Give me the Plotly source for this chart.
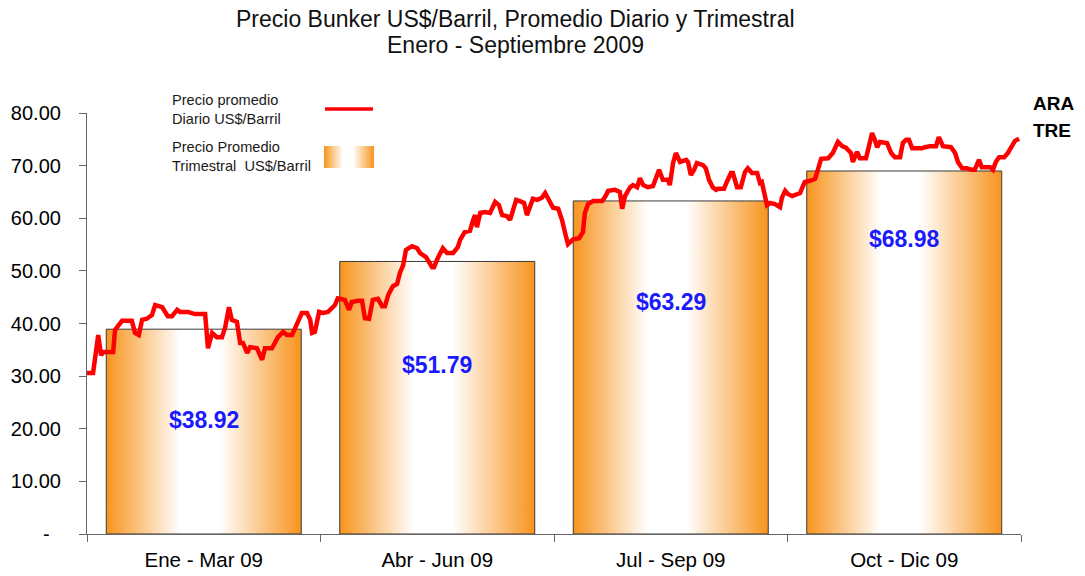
import plotly.graph_objects as go

# ---------------- data ----------------
trimestres = ["Ene - Mar 09", "Abr - Jun 09", "Jul - Sep 09", "Oct - Dic 09"]
promedio_trimestral = [38.92, 51.79, 63.29, 68.98]
etiquetas = ["$38.92", "$51.79", "$63.29", "$68.98"]

# daily price (trading-day position, US$/barril)
dias = [0, 1.3, 2.4, 3.0, 3.6, 5.6, 6.0, 7.5, 9.6, 10.3, 11.1, 11.8, 12.8, 13.9, 14.6, 16.1, 17.3, 18.2, 19.3, 19.9,
        21.6, 22.5, 23.1, 25.3, 25.9, 26.8, 27.8, 28.9, 29.6, 30.4, 31.0, 32.1, 32.8, 33.4, 34.3, 34.9, 36.4, 37.5, 38.1, 39.6,
        40.9, 42.0, 42.8, 43.9, 45.0, 46.0, 47.1, 47.8, 48.2, 48.8, 49.7, 50.5, 51.6, 52.5, 53.1, 53.7, 55.2, 56.1, 56.7, 58.0,
        58.9, 59.5, 60.4, 61.2, 62.3, 63.2, 63.8, 64.5, 65.5, 66.4, 67.0, 67.7, 68.3, 69.6, 70.7, 71.3, 72.6, 73.9, 74.3, 75.2,
        76.2, 77.1, 78.4, 79.4, 79.9, 80.9, 82.0, 82.7, 83.1, 83.5, 84.2, 85.2, 86.3, 87.4, 88.2, 88.9, 89.9, 90.6, 91.2, 91.9,
        93.1, 93.6, 94.2, 94.9, 95.5, 96.4, 97.4, 98.1, 98.7, 99.8, 100.9, 101.7, 102.6, 103.0, 104.1, 105.4, 106.2, 106.6, 107.3, 108.4,
        109.4, 110.3, 110.9, 111.6, 113.1, 114.1, 114.6, 115.2, 116.3, 116.9, 117.8, 118.4, 119.1, 120.1, 121.2, 122.5, 123.3, 124.4, 124.8, 125.5,
        126.1, 127.0, 128.3, 128.7, 129.3, 130.0, 130.6, 131.9, 132.5, 133.2, 134.0, 134.7, 135.1, 136.4, 137.0, 137.9, 138.3, 139.2, 140.0, 140.9,
        141.5, 142.4, 143.5, 144.1, 144.5, 145.2, 145.6, 146.3, 147.3, 148.4, 148.8, 149.5, 150.1, 151.0, 151.8, 152.7, 153.1, 153.7, 154.8, 155.9,
        156.5, 157.2, 158.7, 159.7, 160.8, 161.7, 162.5, 163.6, 164.0, 164.9, 165.5, 166.8, 167.5, 168.1, 168.7, 169.2, 169.8, 170.7, 171.3, 172.2,
        173.0, 174.1, 174.7, 175.4, 176.0, 176.7, 177.7, 178.8, 179.4, 180.5, 181.8, 182.4, 183.3, 184.2, 185.0, 185.9, 186.5, 187.4, 188.4, 189.5,
        190.1, 191.0, 191.6, 192.5, 193.4, 194.0, 194.6, 195.3, 196.4, 197.2, 198.1, 198.7, 199.6]
precio = [30.6, 30.6, 37.8, 34.0, 34.6, 34.6, 38.8, 40.5, 40.5, 38.2, 37.8, 40.7, 40.9, 41.6, 43.5, 43.1, 41.4, 41.4, 42.6, 42.2,
          42.2, 42.0, 41.8, 41.8, 35.3, 38.2, 37.4, 37.4, 39.3, 43.1, 40.7, 40.3, 36.3, 36.3, 34.4, 35.5, 35.3, 33.1, 35.3, 35.3,
          37.4, 38.4, 37.8, 37.8, 40.1, 42.0, 42.0, 40.7, 38.2, 38.4, 42.2, 42.0, 42.2, 42.9, 43.5, 44.8, 44.5, 42.6, 44.1, 44.3,
          44.3, 41.0, 40.9, 44.5, 44.7, 43.3, 43.3, 45.4, 47.1, 47.5, 49.6, 51.1, 54.0, 54.7, 54.3, 53.4, 52.6, 50.7, 50.7, 52.6,
          54.3, 53.4, 53.4, 54.5, 55.9, 57.4, 57.6, 59.7, 60.6, 58.3, 61.0, 61.2, 61.0, 63.1, 62.5, 60.6, 60.4, 59.7, 61.6, 63.5,
          63.1, 62.9, 60.6, 62.5, 63.7, 63.5, 63.9, 64.8, 63.9, 62.0, 61.8, 59.7, 56.4, 55.1, 56.0, 56.2, 57.4, 61.0, 62.7, 63.3,
          63.3, 63.3, 64.0, 65.2, 65.4, 65.0, 61.8, 64.2, 65.9, 66.3, 65.9, 67.6, 66.3, 65.9, 66.1, 69.2, 67.3, 67.3, 66.3, 70.5,
          72.4, 70.7, 71.1, 70.7, 68.2, 69.2, 70.5, 70.1, 69.5, 67.3, 65.9, 65.4, 65.6, 65.6, 66.9, 68.6, 68.6, 65.9, 65.9, 68.8,
          69.5, 68.6, 68.6, 66.7, 66.9, 64.0, 62.5, 62.9, 62.7, 62.1, 63.9, 65.2, 64.6, 64.2, 64.4, 64.8, 65.7, 66.9, 67.1, 67.5,
          69.2, 71.3, 71.4, 72.4, 74.5, 73.7, 73.4, 72.4, 70.7, 72.6, 71.4, 71.4, 73.9, 76.2, 74.9, 73.5, 74.5, 74.5, 74.3, 72.4,
          71.6, 71.6, 74.3, 74.9, 74.9, 73.3, 73.2, 73.3, 73.5, 73.7, 73.7, 75.4, 73.7, 73.5, 73.5, 72.4, 70.7, 69.5, 69.5, 69.2,
          69.2, 71.1, 69.7, 69.7, 69.7, 69.2, 70.7, 71.6, 71.6, 72.4, 73.7, 74.7, 75.1]
assert len(dias) == len(precio), (len(dias), len(precio))

y_ticks = [0, 10, 20, 30, 40, 50, 60, 70, 80]
y_ticktext = ["-\u00a0\u00a0"] + [f"{v:.2f}" for v in y_ticks[1:]]

# ---------------- style ----------------
ORANGE = "#F7941D"
grad = [[0, ORANGE], [0.38, "#FFFFFF"], [0.58, "#FFFFFF"], [1, ORANGE]]
BAR_W = 0.835
FONT = "Liberation Sans, Arial, sans-serif"
label_y = [21.7, 32.1, 44.1, 56.1]

W, H = 1085, 576
ML, MR, MT, MB = 87, 64, 113, 42
PW, PH = W - ML - MR, H - MT - MB


def px(x):
    return (x - ML) / PW


def py(y):
    return (H - MB - y) / PH


fig = go.Figure()

for i, v in enumerate(promedio_trimestral):
    x0, x1 = i - BAR_W / 2, i + BAR_W / 2
    fig.add_trace(go.Scatter(
        x=[x0, x1, x1, x0, x0], y=[0, 0, v, v, 0],
        mode="lines", fill="toself",
        fillgradient=dict(type="horizontal", colorscale=grad),
        line=dict(color="#3a3a3a", width=1),
        hoverinfo="skip", showlegend=False,
    ))

fig.add_trace(go.Scatter(
    x=dias, y=precio, xaxis="x2", yaxis="y", mode="lines",
    line=dict(color="#FF0000", width=4.5), showlegend=False,
))

# legend swatch (gradient box)
fig.add_trace(go.Scatter(
    x=[0, 1, 1, 0, 0], y=[0, 0, 1, 1, 0], xaxis="x3", yaxis="y3",
    mode="lines", fill="toself", line=dict(width=0, color="rgba(0,0,0,0)"),
    fillgradient=dict(type="horizontal", colorscale=grad),
    hoverinfo="skip", showlegend=False,
))

annotations = []
for i, (t, ly) in enumerate(zip(etiquetas, label_y)):
    annotations.append(dict(x=i, y=ly, xref="x", yref="y", text=f"<b>{t}</b>", showarrow=False,
                            font=dict(family=FONT, size=23, color="#1a1aff")))

annotations += [
    dict(x=px(515), y=py(19), xref="paper", yref="paper", showarrow=False,
         text="Precio Bunker US$/Barril, Promedio Diario y Trimestral",
         font=dict(family=FONT, size=23, color="#111"), xanchor="center", yanchor="middle"),
    dict(x=px(515), y=py(45), xref="paper", yref="paper", showarrow=False,
         text="Enero - Septiembre 2009",
         font=dict(family=FONT, size=23, color="#111"), xanchor="center", yanchor="middle"),
    dict(x=px(170), y=py(109.5), xref="paper", yref="paper", showarrow=False, align="left",
         text="Precio promedio<br>Diario US$/Barril",
         font=dict(family=FONT, size=14.6, color="#1a1a1a"), xanchor="left", yanchor="middle"),
    dict(x=px(170), y=py(156), xref="paper", yref="paper", showarrow=False, align="left",
         text="Precio Promedio<br>Trimestral  US$/Barril",
         font=dict(family=FONT, size=14.6, color="#1a1a1a"), xanchor="left", yanchor="middle"),
    dict(x=px(1031), y=py(104), xref="paper", yref="paper", showarrow=False,
         text="<b>ARA</b>", font=dict(family=FONT, size=19, color="#000"), xanchor="left", yanchor="middle"),
    dict(x=px(1031), y=py(130), xref="paper", yref="paper", showarrow=False,
         text="<b>TRE</b>", font=dict(family=FONT, size=19, color="#000"), xanchor="left", yanchor="middle"),
]

shapes = [dict(type="line", xref="paper", yref="paper", x0=px(325), x1=px(373), y0=py(109), y1=py(109),
               line=dict(color="#FF0000", width=3.5))]

fig.update_layout(
    width=W, height=H, autosize=False,
    margin=dict(l=ML, r=MR, t=MT, b=MB, pad=0, autoexpand=False),
    paper_bgcolor="white", plot_bgcolor="white",
    showlegend=False,
    font=dict(family=FONT, color="#000"),
    xaxis=dict(range=[-0.5, 3.5], tickmode="array", tickvals=[0, 1, 2, 3], ticktext=trimestres,
               ticks="", showgrid=False, zeroline=False, showline=True, linecolor="#666", linewidth=1.2,
               tickfont=dict(family=FONT, size=20.5, color="#000"), ticklabelstandoff=7, automargin=False,
               minor=dict(tickmode="array", tickvals=[-0.5, 0.5, 1.5, 2.5, 3.5], ticks="outside",
                          ticklen=7, tickcolor="#666", tickwidth=1.2, showgrid=False),
               fixedrange=True),
    xaxis2=dict(range=[0, 200], overlaying="x", visible=False, fixedrange=True),
    yaxis=dict(range=[0, 80], tickmode="array", tickvals=y_ticks, ticktext=y_ticktext,
               ticks="outside", ticklen=7, tickcolor="#666", tickwidth=1.2,
               showgrid=False, zeroline=False, showline=True, linecolor="#666", linewidth=1.2,
               tickfont=dict(family=FONT, size=20, color="#000"), ticklabelstandoff=14, automargin=False,
               fixedrange=True),
    xaxis3=dict(domain=[px(324), px(374)], range=[0, 1], anchor="y3", visible=False, fixedrange=True),
    yaxis3=dict(domain=[py(168), py(146)], range=[0, 1], anchor="x3", visible=False, fixedrange=True),
    annotations=annotations,
    shapes=shapes,
)

fig.write_html("out.html", config={"displayModeBar": False},
               post_script="document.body.style.margin='0';document.body.style.overflow='hidden';")
